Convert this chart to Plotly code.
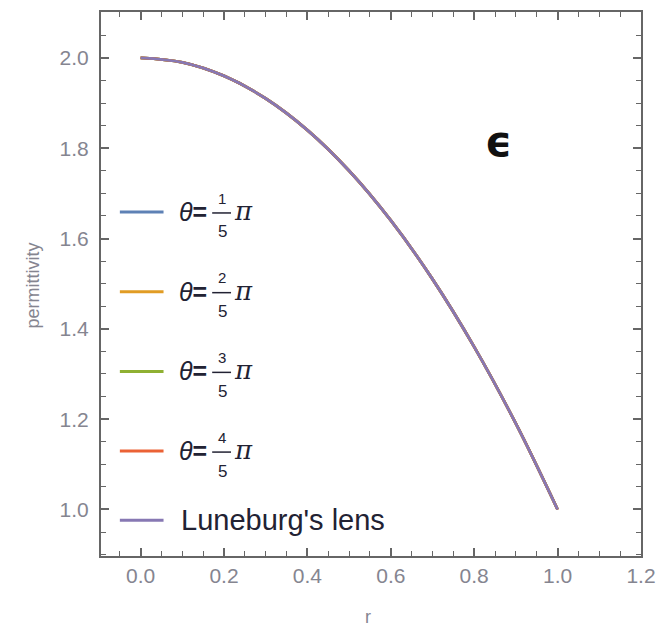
import plotly.graph_objects as go

# Radial coordinate and permittivity profile
r_values = [0.0, 0.1, 0.2, 0.3, 0.4, 0.5, 0.6, 0.7, 0.8, 0.9, 1.0]
eps_theta_1 = [2.0, 1.99, 1.96, 1.91, 1.84, 1.75, 1.64, 1.51, 1.36, 1.19, 1.0]
eps_theta_2 = [2.0, 1.99, 1.96, 1.91, 1.84, 1.75, 1.64, 1.51, 1.36, 1.19, 1.0]
eps_theta_3 = [2.0, 1.99, 1.96, 1.91, 1.84, 1.75, 1.64, 1.51, 1.36, 1.19, 1.0]
eps_theta_4 = [2.0, 1.99, 1.96, 1.91, 1.84, 1.75, 1.64, 1.51, 1.36, 1.19, 1.0]
eps_luneburg = [2.0, 1.99, 1.96, 1.91, 1.84, 1.75, 1.64, 1.51, 1.36, 1.19, 1.0]

theta_numerators = ["1", "2", "3", "4"]
theta_denominator = "5"
luneburg_label = "Luneburg's lens"

x_ticks = [0.0, 0.2, 0.4, 0.6, 0.8, 1.0, 1.2]
y_ticks = [1.0, 1.2, 1.4, 1.6, 1.8, 2.0]

colors = ["#5E81B5", "#E19C24", "#8FB032", "#EB6235", "#8778B3"]
series = [eps_theta_1, eps_theta_2, eps_theta_3, eps_theta_4, eps_luneburg]

W, H = 666, 629
ML, MR, MT, MB = 101, 21, 10, 73
PW, PH = W - ML - MR, H - MT - MB


def px(x):
    return (x - ML) / PW


def py(y):
    return (H - MB - y) / PH


fig = go.Figure()
for vals, col in zip(series, colors):
    fig.add_trace(go.Scatter(x=r_values, y=vals, mode="lines",
                             line=dict(color=col, width=2.8, shape="spline"),
                             showlegend=False, hoverinfo="skip"))

frame = "#666666"
tick_font = dict(family="Liberation Sans, Arial", size=21, color="#858590")
axis_common = dict(showgrid=False, zeroline=False, showline=True, linecolor=frame,
                   linewidth=2, mirror="allticks", ticks="inside", ticklen=8,
                   tickwidth=1.5, tickcolor=frame, tickfont=tick_font)

fig.update_xaxes(range=[-0.095, 1.2], tickvals=x_ticks,
                 ticktext=[f"{v:.1f}" for v in x_ticks],
                 minor=dict(dtick=0.05, tick0=0, ticks="inside", ticklen=5,
                            tickwidth=1.2, tickcolor=frame),
                 ticklabelstandoff=0, **axis_common)
fig.update_yaxes(range=[0.897, 2.1015], tickvals=y_ticks,
                 ticktext=[f"{v:.1f}" for v in y_ticks],
                 minor=dict(dtick=0.05, tick0=0, ticks="inside", ticklen=5,
                            tickwidth=1.2, tickcolor=frame),
                 ticklabelstandoff=6, **axis_common)

ann = []
shapes = []
label_color = "#222233"


def note(x, y, text, size, family="Liberation Sans, Arial", color=label_color,
         xanchor="center", **kw):
    ann.append(dict(x=px(x), y=py(y), xref="paper", yref="paper", text=text,
                    xanchor=xanchor, yanchor="middle", showarrow=False,
                    font=dict(family=family, size=size, color=color), **kw))


# Axis titles
note(32, 285, "permittivity", 18, color="#858590", textangle=-90)
note(370, 617, "r", 18, color="#858590")

# Epsilon marker
note(501, 140, "<b>ϵ</b>", 42, family="DejaVu Sans", color="#111111")

# Legend
entry_y = [210.7, 290.7, 370.7, 450.7, 520.0]
for i, yy in enumerate(entry_y):
    shapes.append(dict(type="line", xref="paper", yref="paper",
                       x0=px(120), x1=px(164), y0=py(yy), y1=py(yy),
                       line=dict(color=colors[i], width=3)))
for i, num in enumerate(theta_numerators):
    yy = entry_y[i]
    note(210, yy, "<i>θ</i><b>=</b>", 25, xanchor="right")
    note(223, yy - 14, num, 15)
    note(223, yy + 20, theta_denominator, 17)
    shapes.append(dict(type="line", xref="paper", yref="paper",
                       x0=px(213), x1=px(232), y0=py(yy + 1), y1=py(yy + 1),
                       line=dict(color=label_color, width=1.5)))
    note(233, yy - 1, "<i>π</i>", 26, family="DejaVu Serif", xanchor="left")
note(180, entry_y[4], luneburg_label, 29, xanchor="left")

fig.update_layout(width=W, height=H, margin=dict(l=ML, r=MR, t=MT, b=MB),
                  paper_bgcolor="white", plot_bgcolor="white",
                  annotations=ann, shapes=shapes, showlegend=False)

fig.write_html("out.html")
